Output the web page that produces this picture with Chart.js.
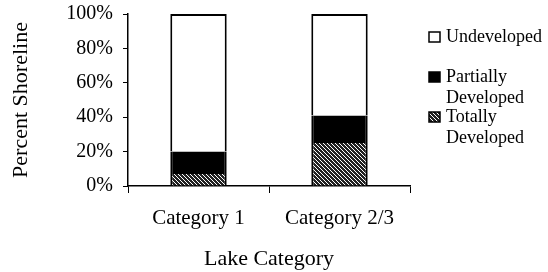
<!DOCTYPE html>
<html>
<head>
<meta charset="utf-8">
<script src="https://cdn.jsdelivr.net/npm/chart.js@4/dist/chart.umd.min.js"></script>
<style>
  html, body { margin: 0; padding: 0; background: #fff; }
  .wrap { width: 548px; height: 272px; position: relative; }
</style>
</head>
<body>
<div class="wrap"><canvas class="shore-chart" width="548" height="272"></canvas></div>
<script>
const categories = ['Category 1', 'Category 2/3'];
const totallyDeveloped = [7, 25];
const partiallyDeveloped = [13, 16];
const undeveloped = [80, 59];
const yTicks = [0, 20, 40, 60, 80, 100];

const serif = "'Liberation Serif', 'Times New Roman', serif";

// diagonal hatch for "Totally Developed"
function makeHatch() {
    const c = document.createElement('canvas');
    c.width = 4; c.height = 4;
    const g = c.getContext('2d');
    g.fillStyle = '#222';
    g.fillRect(0, 0, 4, 4);
    g.strokeStyle = '#ffffff';
    g.lineWidth = 1;
    g.beginPath();
    g.moveTo(-1, -1); g.lineTo(5, 5);
    g.moveTo(-1, 3); g.lineTo(1, 5);
    g.moveTo(3, -1); g.lineTo(5, 1);
    g.stroke();
    return g.createPattern(c, 'repeat');
}
const hatch = makeHatch();

// legend drawn to the right of the plot, text may be multi-line
const sideLegend = {
    id: 'sideLegend',
    afterDraw(chart) {
        const ctx = chart.ctx;
        const items = [
            { ds: 2, lines: ['Undeveloped'], y: 42 },
            { ds: 1, lines: ['Partially', 'Developed'], y: 82 },
            { ds: 0, lines: ['Totally', 'Developed'], y: 122 }
        ];
        const x = 429;
        ctx.save();
        ctx.font = '18px ' + serif;
        ctx.textBaseline = 'alphabetic';
        items.forEach(it => {
            const ds = chart.data.datasets[it.ds];
            ctx.fillStyle = ds.backgroundColor;
            ctx.fillRect(x, it.y - 10, 11, 10);
            ctx.strokeStyle = '#000';
            ctx.lineWidth = 1.5;
            ctx.strokeRect(x, it.y - 10, 11, 10);
            ctx.fillStyle = '#000';
            it.lines.forEach((t, i) => ctx.fillText(t, 446, it.y + i * 20.8));
        });
        ctx.restore();
    }
};

const ctx = document.querySelector('.shore-chart');

const barStyle = {
    borderColor: '#000',
    borderSkipped: false,
    barPercentage: 0.4,
    categoryPercentage: 1
};

new Chart(ctx, {
    type: 'bar',
    data: {
        labels: categories,
        datasets: [
            { label: 'Totally Developed', data: totallyDeveloped, backgroundColor: hatch,
              borderWidth: { left: 2, right: 2, top: 0, bottom: 0 }, ...barStyle },
            { label: 'Partially Developed', data: partiallyDeveloped, backgroundColor: '#000000',
              borderWidth: { left: 2, right: 2, top: 0, bottom: 0 }, ...barStyle },
            { label: 'Undeveloped', data: undeveloped, backgroundColor: '#ffffff',
              borderWidth: { left: 2, right: 2, top: 2, bottom: 0 }, ...barStyle }
        ]
    },
    options: {
        responsive: false,
        animation: false,
        devicePixelRatio: 1,
        layout: { padding: { top: 14, right: 138, left: 0, bottom: 0 } },
        scales: {
            x: {
                stacked: true,
                border: { display: true, color: '#000', width: 1.5 },
                grid: {
                    display: true,
                    drawOnChartArea: false,
                    drawTicks: true,
                    tickLength: 7,
                    tickColor: '#000',
                    offset: true
                },
                ticks: { color: '#000', font: { family: serif, size: 21 }, padding: 13 },
                title: {
                    display: true,
                    text: 'Lake Category',
                    color: '#000',
                    font: { family: serif, size: 22 },
                    padding: { top: 0, bottom: 0 }
                },
                afterFit(scale) { scale.height = 86; scale.paddingLeft = 0; scale.paddingRight = 0; }
            },
            y: {
                stacked: true,
                min: 0,
                max: 100,
                afterBuildTicks(scale) { scale.ticks = yTicks.map(v => ({ value: v })); },
                border: { display: true, color: '#000', width: 1.5 },
                grid: {
                    display: true,
                    drawOnChartArea: false,
                    drawTicks: true,
                    tickLength: 5,
                    tickColor: '#000'
                },
                ticks: {
                    color: '#000',
                    font: { family: serif, size: 20 },
                    padding: 10,
                    callback: v => v + '%'
                },
                title: {
                    display: true,
                    text: 'Percent Shoreline',
                    color: '#000',
                    font: { family: serif, size: 22 },
                    padding: { top: 8, bottom: 0 }
                },
                afterFit(scale) { scale.width = 128; scale.paddingTop = 0; scale.paddingBottom = 0; }
            }
        },
        plugins: {
            legend: { display: false },
            tooltip: { enabled: false }
        }
    },
    plugins: [sideLegend]
});
</script>
</body>
</html>
